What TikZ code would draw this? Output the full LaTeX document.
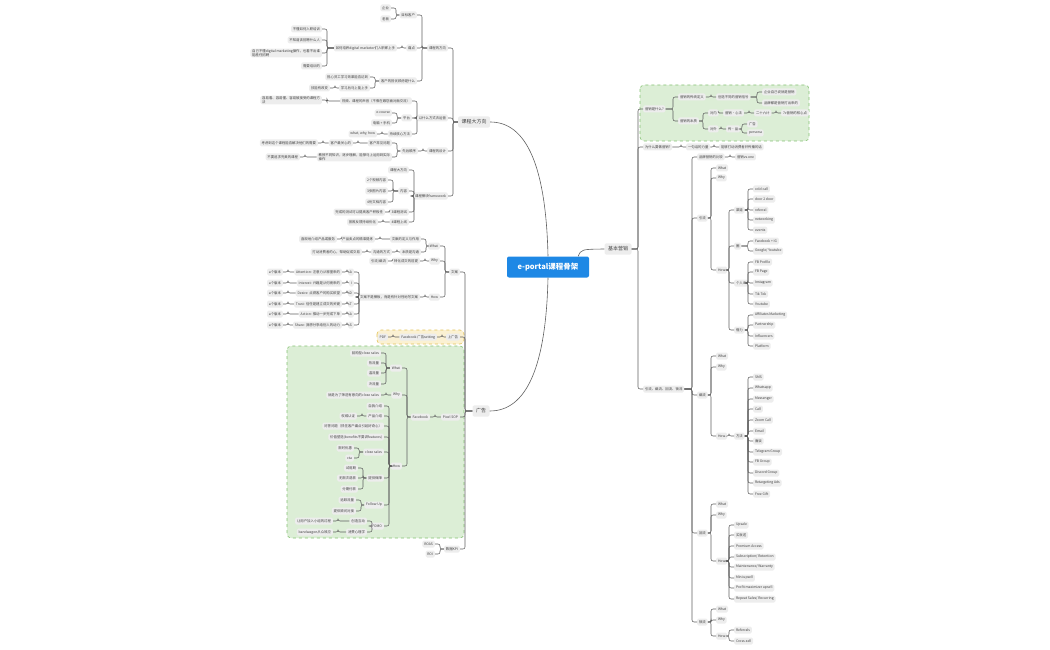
\documentclass[tikz,border=0pt]{standalone}
\usepackage{fontspec}
\setmainfont{Noto Sans CJK SC}
\usetikzlibrary{calc}

\definecolor{linegray}{HTML}{5F5F5F}
\definecolor{boxgray}{HTML}{EDEDED}
\definecolor{txtgray}{HTML}{404040}
\definecolor{rootblue}{HTML}{1E88E5}
\definecolor{grfill}{HTML}{DCEED6}
\definecolor{grline}{HTML}{86C274}
\definecolor{yefill}{HTML}{FBF1D2}
\definecolor{yeline}{HTML}{E2C35A}

\begin{document}
\begin{tikzpicture}[x=1pt,y=-1pt,
  topic/.style={fill=boxgray,text=txtgray,rounded corners=1.5pt,inner xsep=1.8pt,
    inner ysep=0.6pt,minimum height=7pt,align=left,font=\fontsize{3.4}{4.2}\selectfont},
  lt/.style={topic,anchor=east},
  rt/.style={topic,anchor=west},
  main/.style={fill=boxgray,text=txtgray,rounded corners=2pt,inner xsep=3.5pt,
    minimum height=11pt,font=\fontsize{5}{6}\selectfont},
  root/.style={fill=rootblue,text=white,rounded corners=2pt,minimum width=82pt,
    minimum height=21pt,font=\fontsize{7.5}{9}\selectfont\bfseries},
  lk/.style={draw=linegray,line width=.55pt,rounded corners=2pt,
    to path={-| ([xshift=5pt]\tikztotarget) -- (\tikztotarget)}},
  rk/.style={draw=linegray,line width=.55pt,rounded corners=2pt,
    to path={-| ([xshift=-5pt]\tikztotarget) -- (\tikztotarget)}},
  curve/.style={draw=linegray,line width=.6pt},
  gbox/.style={fill=grfill,draw=grline,dashed,line width=.6pt,rounded corners=4pt},
  ybox/.style={fill=yefill,draw=yeline,dashed,line width=.6pt,rounded corners=4pt}]

  \useasboundingbox (0,0) rectangle (1050,650);

  \draw[gbox] (287,346) rectangle (464,538);
  \draw[ybox] (377,330) rectangle (464,344);
  \draw[gbox] (640,85) rectangle (809,141);

  \node[root] (R) at (548,267) {e-portal课程骨架};
  \node[main] (K) at (474,122) {课程大方向};
  \node[main] (G) at (481,411) {广告};
  \node[main] (J) at (618,249) {基本营销};

  \draw[curve] (R.north) .. controls (546,165) and (526,122) .. (K.east);
  \draw[curve] (R.south) .. controls (546,368) and (526,411) .. (G.east);
  \draw[curve] ([xshift=-11pt]R.north east) .. controls +(3,-7) .. (J.west);

  % 课程大方向
  \node[lt] (k1) at (448,48) {课程的方向};
  \node[lt] (k2) at (448,118) {以什么方式去运营};
  \node[lt] (k3) at (448,151) {课程的设计};
  \node[lt] (k4) at (448,196) {课程模块framework};

  \node[lt] (k11) at (417,15) {目标客户};
  \node[lt] (k12) at (417,48) {痛点};
  \node[lt] (k13) at (417,81) {客户的担忧顾虑是什么};
  \node[lt] (k111) at (391,8) {企业};
  \node[lt] (k112) at (391,19) {老板};
  \node[lt] (k121) at (397,48) {如何培养digital marketer们入职即上手};
  \node[lt] (k1211) at (322,29) {不懂如何入职培训};
  \node[lt] (k1212) at (322,40) {不知道该招聘什么人};
  \node[lt] (k1213) at (322,53) {自己不懂digital marketing操作，也看不出谁\\能胜任招聘};
  \node[lt] (k1214) at (322,66) {需要培训的};
  \node[lt] (k131) at (370,77) {担心员工学习效果能否达到};
  \node[lt] (k132) at (370,88) {学习后马上能上手};
  \node[lt] (k1321) at (330,88) {技能有改变};

  \node[lt] (k21) at (412,101) {视频、课程的声音（不像在跟您面对面交流）};
  \node[lt] (k211) at (322,100) {容易看、容易懂、容易被接受的课程方\\法};
  \node[lt] (k22) at (412,118) {平台};
  \node[lt] (k221) at (392,113) {e-course};
  \node[lt] (k222) at (392,123) {电脑 + 手机};
  \node[lt] (k23) at (412,134) {持续核心方法};
  \node[lt] (k231) at (377,134) {what, why, how};

  \node[lt] (k31) at (418,151) {先后顺序};
  \node[lt] (k311) at (392,143) {客户常见问题};
  \node[lt] (k3111) at (353,143) {客户最关心的};
  \node[lt] (k31111) at (318,143) {考虑到这个课程能否解决他们的需要};
  \node[lt] (k312) at (392,157) {教授不同知识，逐步理解，能够马上运用到实际\\操作};
  \node[lt] (k3121) at (300,157) {不要追求完美的课程};

  \node[lt] (k41) at (409,170) {课程大方向};
  \node[lt] (k42) at (409,191) {内容};
  \node[lt] (k43) at (409,212) {3课程测试};
  \node[lt] (k44) at (409,222) {4课程上线};
  \node[lt] (k421) at (388,180) {2个视频内容};
  \node[lt] (k422) at (388,191) {3张图片内容};
  \node[lt] (k423) at (388,202) {4份文档内容};
  \node[lt] (k431) at (385,212) {完成的测试可以提高客户积极性};
  \node[lt] (k441) at (378,222) {按照反馈持续优化};

  % 广告
  \node[lt] (g1) at (460,272) {文案};
  \node[lt] (g2) at (460,337) {上广告};
  \node[lt] (g3) at (460,417) {Pixel SOP};
  \node[lt] (g4) at (460,549) {数据KPI};

  \node[lt] (g11) at (440,246) {What};
  \node[lt] (g12) at (440,261) {Why};
  \node[lt] (g13) at (440,297) {How};
  \node[lt] (g111) at (421,239) {文案的定义与作用};
  \node[lt] (g1111) at (375,239) {产品卖点的精准提炼};
  \node[lt] (g11111) at (337,239) {直观地介绍产品或服务};
  \node[lt] (g112) at (421,252) {本质是沟通};
  \node[lt] (g1121) at (392,252) {沟通的方式};
  \node[lt] (g11211) at (362,252) {打动消费者的心，帮助促成交易};
  \node[lt] (g121) at (420,261) {转化成交的前提};
  \node[lt] (g1211) at (388,261) {引流/截流};
  \node[lt] (g131) at (420,297) {文案不是模板，而是有针对性地写文案};
  \foreach \y/\l/\d [count=\i] in {272/A/Attention: 注意力从哪里来的,
      283/I/Interest: 兴趣是从何而来的, 293/D/Desire: 点燃客户的购买欲望,
      304/T/Trust: 信任是建立成交的关键, 314/A/Action: 推动一步完成下单,
      325/S/Share: 我想分享给别人的动力} {
    \node[lt] (aid\i) at (354,\y) {\l};
    \node[lt] (aidd\i) at (342,\y) {\d};
    \node[lt] (aidv\i) at (283,\y) {a个版本};
    \draw[lk] (g131.west) to (aid\i.east);
    \draw[lk] (aid\i.west) to (aidd\i.east);
    \draw[lk] (aidd\i.west) to (aidv\i.east);
  }

  \node[lt] (g21) at (437,337) {Facebook 广告setting};
  \node[lt] (g211) at (388,337) {PDF};

  \node[lt] (g31) at (430,417) {Facebook};
  \node[lt] (g311) at (402,368) {What};
  \node[lt] (g312) at (402,395) {Why};
  \node[lt] (g313) at (402,466) {How};
  \foreach \y/\t [count=\i] in {353/回购型close sales,363/热流量,373/温流量,384/冷流量} {
    \node[lt] (fw\i) at (381,\y) {\t};
    \draw[lk] (g311.west) to (fw\i.east);
  }
  \node[lt] (fy1) at (381,395) {就是为了筛选有意向的close sales};
  \node[lt] (hw1) at (384,406) {自我介绍};
  \node[lt] (hw2) at (384,416) {产品介绍};
  \node[lt] (hw3) at (384,426) {问答问题（抓住客户痛点引起好奇心）};
  \node[lt] (hw4) at (384,437) {价值塑造(benefits不要讲features)};
  \node[lt] (hw5) at (384,452) {close sales};
  \node[lt] (hw6) at (384,478) {提供保障};
  \node[lt] (hw7) at (384,505) {Follow Up};
  \node[lt] (hw8) at (384,526) {FOMO};
  \node[lt] (hw21) at (357,416) {权威认证};
  \node[lt] (hw51) at (354,448) {限时优惠};
  \node[lt] (hw52) at (354,458) {cta};
  \node[lt] (hw61) at (358,468) {试用期};
  \node[lt] (hw62) at (358,478) {无限次退款};
  \node[lt] (hw63) at (358,489) {分期付款};
  \node[lt] (hw71) at (356,500) {追踪流量};
  \node[lt] (hw72) at (356,511) {提供顾问对接};
  \node[lt] (hw81) at (367,521) {创造互动};
  \node[lt] (hw82) at (367,532) {消费心理学};
  \node[lt] (hw811) at (333,521) {让用户加入小组的过程};
  \node[lt] (hw821) at (333,532) {bandwagon从众效应};

  \node[lt] (g41) at (435,544) {ROAS};
  \node[lt] (g42) at (435,554) {ROI};

  \foreach \a/\b in {K/k1,K/k2,K/k3,K/k4,k1/k11,k1/k12,k1/k13,k11/k111,k11/k112,
      k12/k121,k121/k1211,k121/k1212,k121/k1213,k121/k1214,k13/k131,k13/k132,
      k132/k1321,k2/k21,k2/k22,k2/k23,k21/k211,k22/k221,k22/k222,k23/k231,
      k3/k31,k31/k311,k31/k312,k311/k3111,k3111/k31111,k312/k3121,
      k4/k41,k4/k42,k4/k43,k4/k44,k42/k421,k42/k422,k42/k423,k43/k431,k44/k441,
      G/g1,G/g2,G/g3,G/g4,g1/g11,g1/g12,g1/g13,g11/g111,g11/g112,g111/g1111,
      g1111/g11111,g112/g1121,g1121/g11211,g12/g121,g121/g1211,g13/g131,
      g2/g21,g21/g211,g3/g31,g31/g311,g31/g312,g31/g313,g312/fy1,
      g313/hw1,g313/hw2,g313/hw3,g313/hw4,g313/hw5,g313/hw6,g313/hw7,g313/hw8,
      hw2/hw21,hw5/hw51,hw5/hw52,hw6/hw61,hw6/hw62,hw6/hw63,hw7/hw71,hw7/hw72,
      hw8/hw81,hw8/hw82,hw81/hw811,hw82/hw821,g4/g41,g4/g42}
    \draw[lk] (\a.west) to (\b.east);

  % 基本营销
  \node[rt] (j1) at (643,109) {营销是什么?};
  \node[rt] (j2) at (643,147) {为什么要做营销?};
  \node[rt] (j3) at (643,389) {引流、截流、回流、锁流};
  \node[rt] (j11) at (678,97) {营销的传统定义};
  \node[rt] (j111) at (716,97) {创造不同的营销信号};
  \node[rt] (j1111) at (762,92) {企业自己说就是营销};
  \node[rt] (j1112) at (762,103) {品牌都是营销打出来的};
  \node[rt] (j12) at (678,121) {营销的本质};
  \node[rt] (j121) at (708,113) {对内};
  \node[rt] (j1211) at (723,113) {营销·心法};
  \node[rt] (j12111) at (754,113) {二十六计};
  \node[rt] (j121111) at (781,113) {7c营销的核心点};
  \node[rt] (j122) at (708,129) {对外};
  \node[rt] (j1221) at (726,129) {传·品};
  \node[rt] (j12211) at (747,124) {广告};
  \node[rt] (j12212) at (747,133) {persona};
  \node[rt] (j21) at (686,147) {一句话的力量};
  \node[rt] (j211) at (719,147) {能够打动消费者并传播的话};

  \node[rt] (j31) at (697,157) {品牌营销的比较};
  \node[rt] (j311) at (735,157) {营销vs.one};
  \node[rt] (j32) at (697,218) {引流};
  \node[rt] (j33) at (697,395) {截流};
  \node[rt] (j34) at (697,533) {回流};
  \node[rt] (j35) at (697,622) {锁流};
  \foreach \p/\a/\b/\c in {j32/168/178/270,j33/356/367/436,j34/504/515/561,j35/609/620/636} {
    \node[rt] (\p-what) at (716,\a) {What};
    \node[rt] (\p-why) at (716,\b) {Why};
    \node[rt] (\p-how) at (716,\c) {How};
    \draw[rk] (\p.east) to (\p-what.west);
    \draw[rk] (\p.east) to (\p-why.west);
    \draw[rk] (\p.east) to (\p-how.west);
  }

  \node[rt] (yl1) at (734,210) {渠道};
  \node[rt] (yl2) at (734,246) {圈};
  \node[rt] (yl3) at (734,283) {个人IP};
  \node[rt] (yl4) at (734,330) {借力};
  \foreach \y/\t [count=\i] in {189/cold call,199/door 2 door,210/referral,220/networking,230/events} {
    \node[rt] (qd\i) at (753,\y) {\t};
    \draw[rk] (yl1.east) to (qd\i.west);
  }
  \foreach \y/\t [count=\i] in {241/Facebook + IG,251/{Google/ Youtube}} {
    \node[rt] (qu\i) at (753,\y) {\t};
    \draw[rk] (yl2.east) to (qu\i.west);
  }
  \foreach \y/\t [count=\i] in {262/FB Profile,272/FB Page,283/Instagram,294/Tik Tok,304/Youtube} {
    \node[rt] (ip\i) at (753,\y) {\t};
    \draw[rk] (yl3.east) to (ip\i.west);
  }
  \foreach \y/\t [count=\i] in {315/Affiliates Marketing,325/Partnership,336/Influencers,346/Platform} {
    \node[rt] (jl\i) at (753,\y) {\t};
    \draw[rk] (yl4.east) to (jl\i.west);
  }

  \node[rt] (jf) at (734,436) {方法};
  \foreach \y/\t [count=\i] in {377/SMS,388/Whatsapp,399/Messenger,409/Call,420/Zoom Call,
      431/Email,441/面谈,452/Telegram Group,462/FB Group,473/Discord Group,
      483/Retargeting Ads,494/Free Gift} {
    \node[rt] (ff\i) at (753,\y) {\t};
    \draw[rk] (jf.east) to (ff\i.west);
  }

  \foreach \y/\t [count=\i] in {525/Upsale,535/买就送,546/Premium Access,
      557/{Subscription/ Retention},567/{Maintenance/ Warranty},578/Mini upsell,
      588/Profit maximizer upsell,599/{Repeat Sales/ Recurring}} {
    \node[rt] (hl\i) at (734,\y) {\t};
    \draw[rk] (j34-how.east) to (hl\i.west);
  }
  \node[rt] (sl1) at (734,630) {Referrals};
  \node[rt] (sl2) at (734,641) {Cross-sell};

  \foreach \a/\b in {J/j1,J/j2,J/j3,j1/j11,j1/j12,j11/j111,j111/j1111,j111/j1112,
      j12/j121,j12/j122,j121/j1211,j1211/j12111,j12111/j121111,j122/j1221,
      j1221/j12211,j1221/j12212,j2/j21,j21/j211,j3/j31,j3/j32,j3/j33,j3/j34,j3/j35,
      j31/j311,j32-how/yl1,j32-how/yl2,j32-how/yl3,j32-how/yl4,j33-how/jf,
      j35-how/sl1,j35-how/sl2}
    \draw[rk] (\a.east) to (\b.west);
\end{tikzpicture}
\end{document}
